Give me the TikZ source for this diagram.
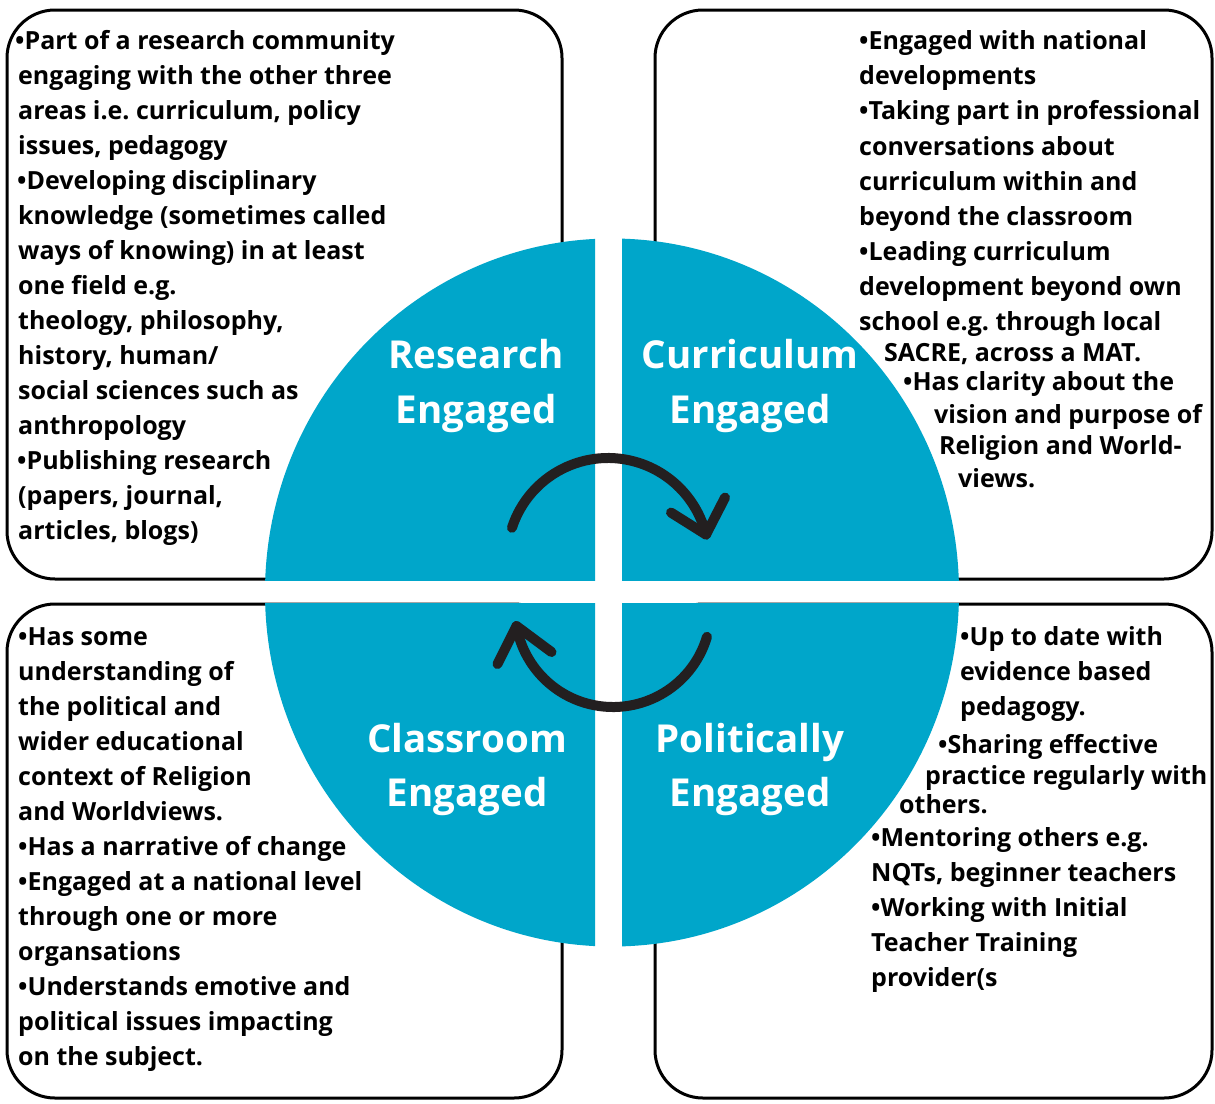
\documentclass[tikz,border=0pt]{standalone}
\usepackage{fontspec}
\setmainfont{Open Sans}
\frenchspacing
\definecolor{pieblue}{RGB}{0,166,202}
\definecolor{arrowdark}{RGB}{35,31,32}
\newcommand\bodyfont{\fontsize{25}{35}\selectfont\bfseries\frenchspacing}
\newcommand\titlefont{\fontsize{38.5}{55}\selectfont\bfseries}
\newcommand\bline[4]{\node[bodytxt] (#1) at (#2,#3) {#4};}
\begin{document}
\begin{tikzpicture}[x=1pt,y=-1pt,
  box/.style={draw=black, line width=3pt, fill=white, rounded corners=48pt},
  bodytxt/.style={anchor=base west, inner sep=0pt, font=\bodyfont, text=black},
  title/.style={anchor=base, inner sep=0pt, font=\titlefont, text=white},
  cyc/.style={draw=arrowdark, line width=10pt, line cap=round, line join=round}]
\useasboundingbox (0,0) rectangle (1215,1103);
\fill[white] (0,0) rectangle (1215,1103);
% boxes
\draw[box] (7,10) rectangle (562,579);
\draw[box] (655,10) rectangle (1212,579);
\draw[box] (7,604) rectangle (562,1098);
\draw[box] (655,604) rectangle (1212,1098);
% pie quadrants
\coordinate (pc) at (612,592.5);
\begin{scope}\clip (0,0) rectangle (595,580);
  \fill[pieblue] (pc) ellipse [x radius=347pt, y radius=354pt];\end{scope}
\begin{scope}\clip (622,0) rectangle (1215,580);
  \fill[pieblue] (pc) ellipse [x radius=347pt, y radius=354pt];\end{scope}
\begin{scope}\clip (0,603) rectangle (595,1103);
  \fill[pieblue] (pc) ellipse [x radius=347pt, y radius=354pt];\end{scope}
\begin{scope}\clip (622,603) rectangle (1215,1103);
  \fill[pieblue] (pc) ellipse [x radius=347pt, y radius=354pt];\end{scope}
% titles
\node[title] (rt1) at (476,368) {Research};
\node[title] (rt2) at (476,423) {Engaged};
\node[title] (ct1) at (750,368) {Curriculum};
\node[title] (ct2) at (750,423) {Engaged};
\node[title] (lt1) at (467,752) {Classroom};
\node[title] (lt2) at (467,806) {Engaged};
\node[title] (pt1) at (750,752) {Politically};
\node[title] (pt2) at (750,806) {Engaged};
% cycle arrows
\coordinate (ca) at (608,559);
\coordinate (cb) at (613,609);
\draw[cyc] (ca) ++(162:101pt) arc[start angle=162, end angle=14, radius=101pt] coordinate (tipa);
\draw[cyc] (tipa) -- ++(-35,-22) (tipa) -- ++(19,-37);
\draw[cyc] (cb) ++(-16.5:98pt) arc[start angle=-16.5, end angle=-170, radius=98pt] coordinate (tipb);
\draw[cyc] (tipb) -- ++(35,26) (tipb) -- ++(-19,38);
% top-left text
\bline{a1}{15}{49}{•Part of a research community}
\bline{a2}{18}{84}{engaging with the other three}
\bline{a3}{18}{119}{areas i.e. curriculum, policy}
\bline{a4}{18}{154}{issues, pedagogy}
\bline{a5}{17}{189}{•Developing disciplinary}
\bline{a6}{18}{224}{knowledge (sometimes called}
\bline{a7}{18}{259}{ways of knowing) in at least}
\bline{a8}{18}{294}{one field e.g.}
\bline{a9}{18}{329}{theology, philosophy,}
\bline{a10}{18}{364}{history, human/}
\bline{a11}{18}{399}{social sciences such as}
\bline{a12}{18}{434}{anthropology}
\bline{a13}{17}{469}{•Publishing research}
\bline{a14}{18}{504}{(papers, journal,}
\bline{a15}{18}{539}{articles, blogs)}
% top-right text
\bline{b1}{859}{49}{•Engaged with national}
\bline{b2}{859}{84}{developments}
\bline{b3}{859}{119}{•Taking part in professional}
\bline{b4}{859}{155}{conversations about}
\bline{b5}{859}{190}{curriculum within and}
\bline{b6}{859}{225}{beyond the classroom}
\bline{b7}{859}{260}{•Leading curriculum}
\bline{b8}{859}{295}{development beyond own}
\bline{b9}{859}{330}{school e.g. through local}
\bline{b10}{884}{361}{SACRE, across a MAT.}
\bline{b11}{903}{390}{•Has clarity about the}
\bline{b12}{934}{423}{vision and purpose of}
\bline{b13}{939}{454}{Religion and World-}
\bline{b14}{958}{487}{views.}
% bottom-left text
\bline{c1}{18}{645}{•Has some}
\bline{c2}{18}{680}{understanding of}
\bline{c3}{18}{715}{the political and}
\bline{c4}{18}{750}{wider educational}
\bline{c5}{18}{785}{context of Religion}
\bline{c6}{18}{820}{and Worldviews.}
\bline{c7}{18}{855}{•Has a narrative of change}
\bline{c8}{18}{890}{•Engaged at a national level}
\bline{c9}{18}{925}{through one or more}
\bline{c10}{18}{960}{organsations}
\bline{c11}{18}{995}{•Understands emotive and}
\bline{c12}{18}{1030}{political issues impacting}
\bline{c13}{18}{1065}{on the subject.}
% bottom-right text
\bline{d1}{960}{645}{•Up to date with}
\bline{d2}{960}{680}{evidence based}
\bline{d3}{960}{715}{pedagogy.}
\bline{d4}{938}{753}{•Sharing effective}
\bline{d5}{925}{784}{practice regularly with}
\bline{d6}{899}{813}{others.}
\bline{d7}{871}{846}{•Mentoring others e.g.}
\bline{d8}{871}{881}{NQTs, beginner teachers}
\bline{d9}{871}{916}{•Working with Initial}
\bline{d10}{871}{951}{Teacher Training}
\bline{d11}{871}{986}{provider(s}
\end{tikzpicture}
\end{document}
